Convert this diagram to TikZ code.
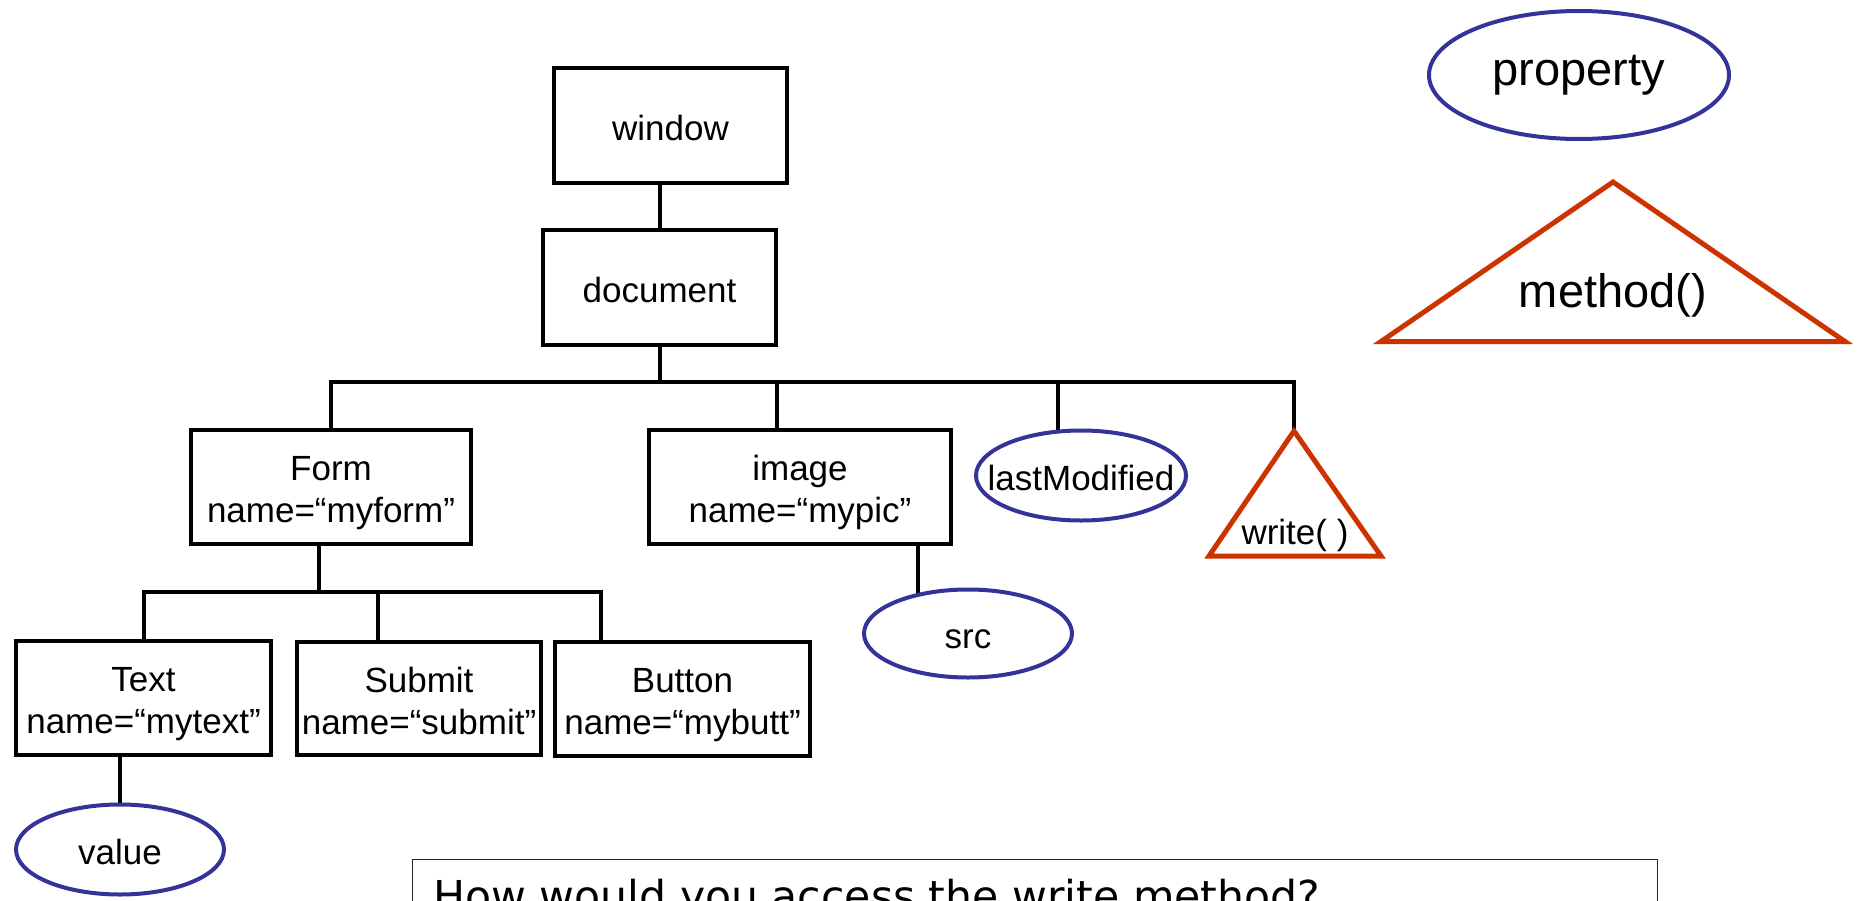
\documentclass[tikz,border=0pt]{standalone}
\usepackage{fontspec}
\setmainfont{Liberation Sans}
\newfontfamily\qfont{DejaVu Sans}
\usetikzlibrary{shapes.geometric,calc,backgrounds}
\definecolor{propblue}{RGB}{51,51,153}
\definecolor{methred}{RGB}{204,51,0}
\newcommand{\tstrut}{\rule{0pt}{39pt}}
\newcommand{\bstrut}{\rule[-10pt]{0pt}{10pt}}
\begin{document}
\begin{tikzpicture}[x=1pt,y=1pt,
  objbox/.style={draw, line width=4pt, fill=white, align=center, inner sep=0pt,
    font=\fontsize{35}{42}\selectfont},
  propell/.style={ellipse, draw=propblue, line width=4pt, fill=white, inner sep=0pt,
    font=\fontsize{35}{42}\selectfont},
  methtri/.style={draw=methred, line width=5pt, fill=white, line join=miter},
  trilabel/.style={anchor=base, inner sep=0pt, font=\fontsize{35}{42}\selectfont},
  conn/.style={line width=4pt}]

\useasboundingbox (0,0) rectangle (1860,-900);
\clip (0,0) rectangle (1860,-900);

% object boxes
\node[objbox, minimum width=233pt, minimum height=115pt] (window) at (670.5,-125.5) {\tstrut window\bstrut};
\node[objbox, minimum width=233pt, minimum height=115pt] (document) at (659.5,-287.5) {\tstrut document\bstrut};
\node[objbox, minimum width=280pt, minimum height=114pt] (form) at (331,-487) {\tstrut Form\\name=“myform”\bstrut};
\node[objbox, minimum width=302pt, minimum height=114pt] (image) at (800,-487) {\tstrut image\\name=“mypic”\bstrut};
\node[objbox, minimum width=255pt, minimum height=114pt] (text) at (143.5,-698) {\tstrut Text\\name=“mytext”\bstrut};
\node[objbox, minimum width=244pt, minimum height=113pt] (submit) at (419,-698.5) {\tstrut Submit\\name=“submit”\bstrut};
\node[objbox, minimum width=255pt, minimum height=114pt] (button) at (682.5,-699) {\tstrut Button\\name=“mybutt”\bstrut};

% properties
\node[propell, minimum width=210pt, minimum height=90pt] (lm) at (1081,-475.5) {\makebox[0pt]{\tstrut lastModified\bstrut}};
\node[propell, minimum width=208pt, minimum height=88pt] (src) at (968,-633.5) {\makebox[0pt]{\tstrut src\bstrut}};
\node[propell, minimum width=208pt, minimum height=90pt] (value) at (120,-849.5) {\makebox[0pt]{\tstrut value\bstrut}};
\node[propell, minimum width=300pt, minimum height=128pt,
  font=\fontsize{47}{56}\selectfont] (prop) at (1579,-75) {\makebox[0pt]{property}};

% methods
\coordinate (wA) at (1294,-431);
\coordinate (wL) at (1209,-556);
\coordinate (wR) at (1381,-556);
\draw[methtri] (wA) -- (wR) -- (wL) -- cycle;
\node[trilabel] (write) at (1295,-544) {write( )};

\coordinate (mA) at (1613,-182);
\coordinate (mL) at (1381,-341.5);
\coordinate (mR) at (1845,-341.5);
\draw[methtri] (mA) -- (mR) -- (mL) -- cycle;
\node[trilabel, font=\fontsize{47}{56}\selectfont] (method) at (1613,-307) {method()};

% bus levels
\coordinate (bus) at (0,-382);
\coordinate (sbus) at (0,-592);

\begin{pgfonlayer}{background}
\draw[conn] (document.north |- window.south) -- (document.north);
\draw[conn] (document.south) -- (document.south |- bus);
\draw[conn] (form.north) |- (wA |- bus) -- (wA);
\draw[conn] ([xshift=-23pt]image.north) -- ([xshift=-23pt]image.north |- bus);
\draw[conn] ([xshift=-23pt]lm.center) -- ([xshift=-23pt]lm.center |- bus);
\draw[conn] ([xshift=-12pt]form.south) -- ([xshift=-12pt]form.south |- sbus);
\draw[conn] (text.north) |- ([xshift=-81.5pt]button.north |- sbus) -- ([xshift=-81.5pt]button.north);
\draw[conn] ([xshift=-41pt]submit.north) -- ([xshift=-41pt]submit.north |- sbus);
\draw[conn] (value.center |- text.south) -- (value.center);
\draw[conn] ([xshift=118pt]image.south) -- ([xshift=118pt]image.south |- src.center);
\end{pgfonlayer}

% question box
\node[draw=black!85, line width=1.5pt, anchor=north west, minimum width=1245pt,
  minimum height=120pt, inner sep=0pt] (qbox) at (411.75,-858.75) {};
\node[anchor=base west, inner sep=0pt, font=\qfont\fontsize{42.6}{50}\selectfont]
  (question) at (433,-911) {How would you access the write method?};
\end{tikzpicture}
\end{document}
